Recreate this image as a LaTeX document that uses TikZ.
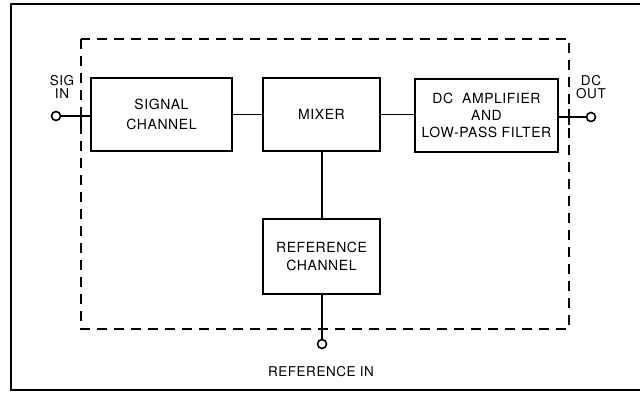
\documentclass[tikz,border=0pt]{standalone}
\usepackage{fontspec}
\setmainfont{TeX Gyre Heros}[LetterSpace=4]
\begin{document}
\begin{tikzpicture}[x=1pt,y=-1pt,
  blk/.style={draw, line width=1.8pt, minimum width=#1, align=center, font=\fontsize{14}{20}\selectfont, inner sep=0pt},
  wire/.style={line width=1.8pt},
  term/.style={circle, draw, line width=1.6pt, minimum size=9pt, inner sep=0pt, fill=white},
  lbl/.style={font=\fontsize{13.5}{13.5}\selectfont, align=center, inner sep=0pt}]
\useasboundingbox (0,0) rectangle (640,394);
% outer frame
\draw[line width=2.8pt] (641,4) -- (11,4) -- (11,390) -- (641,390);
% dashed enclosure
\draw[line width=1.8pt, dash pattern=on 10pt off 7pt] (81,39) rectangle (569,329);
% blocks
\node[blk=141pt, minimum height=73pt] (sig) at (161.5,114.5) {SIGNAL\\CHANNEL};
\node[blk=117pt, minimum height=73pt] (mix) at (321.5,114.5) {MIXER};
\node[blk=143pt, minimum height=73pt, font=\fontsize{14}{17}\selectfont] (dc) at (486.5,115.5) {DC\ \ AMPLIFIER\\AND\\LOW-PASS FILTER};
\node[blk=117pt, minimum height=75pt, font=\fontsize{14}{18}\selectfont] (ref) at (321.5,256.5) {REFERENCE\\CHANNEL};
% terminals
\node[term] (sigin) at (56,116) {};
\node[term] (dcout) at (591,117) {};
\node[term] (refin) at (322,344) {};
% labels
\node[lbl] (siglbl) at (62,87) {SIG\\[-1pt]IN};
\node[lbl] (dclbl) at (591,87) {DC\\[-1pt]OUT};
\node[lbl] (reflbl) at (321,372) {REFERENCE IN};
% connectors
\draw[wire] (sigin.east) -- (sigin.east -| sig.west);
\draw[wire] (sig.east |- mix.west) -- (mix.west);
\draw[wire] (mix.east) -- (mix.east -| dc.west);
\draw[wire] (dc.east |- dcout.west) -- (dcout.west);
\draw[wire] (mix.south -| refin.north) -- (ref.north -| refin.north);
\draw[wire] (ref.south -| refin.north) -- (refin.north);
% ticks where wires cross the dashed line
\draw[wire] (81,108) -- (81,124);
\draw[wire] (569,109) -- (569,125);
\end{tikzpicture}
\end{document}
